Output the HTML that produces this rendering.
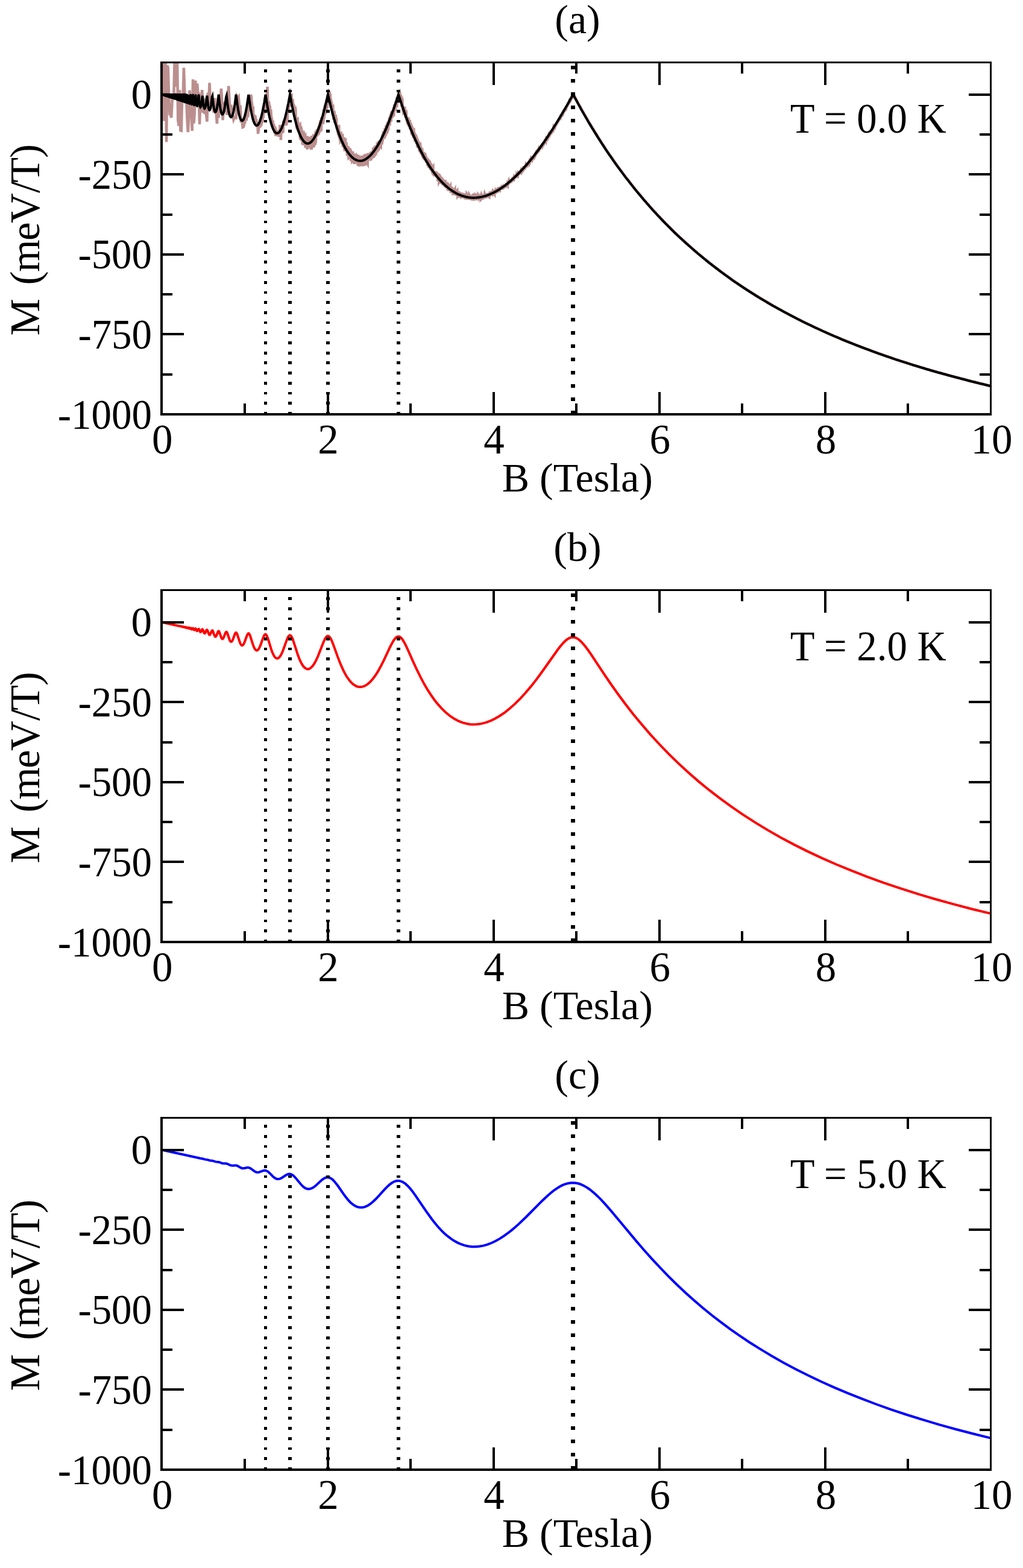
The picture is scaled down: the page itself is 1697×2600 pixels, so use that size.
<!DOCTYPE html><html><head><meta charset="utf-8"><title>M vs B</title><style>html,body{margin:0;padding:0;background:#fff;overflow:hidden}svg{display:block}</style></head><body>
<svg width="1697" height="2600" viewBox="0 0 1697 2600" font-family="&quot;Liberation Serif&quot;, &quot;Times New Roman&quot;, serif">
<rect width="100%" height="100%" fill="#fff"/>
<defs>
<clipPath id="c0"><rect x="267.8" y="103.5" width="1375.8" height="583.5"/></clipPath>
<clipPath id="c1"><rect x="267.8" y="978.5" width="1375.8" height="583.5"/></clipPath>
<clipPath id="c2"><rect x="267.8" y="1853.5" width="1375.8" height="583.5"/></clipPath>
</defs>
<g clip-path="url(#c0)" fill="none" stroke-width="4">
<polyline stroke="#bc8f8f" stroke-width="4.6" points="267.8,90.0 269.2,90.0 270.6,90.0 271.9,200.5 273.3,188.9 274.7,97.8 276.1,235.4 277.4,108.4 278.8,112.9 280.2,163.3 281.6,189.4 282.9,190.3 284.3,195.0 285.7,165.7 287.1,158.4 288.4,154.4 289.8,92.2 291.2,115.6 292.6,144.1 293.9,93.3 295.3,199.1 296.7,208.8 298.1,149.2 299.4,216.3 300.8,216.7 302.2,157.8 303.6,161.2 304.9,112.4 306.3,152.0 307.7,166.3 309.1,159.9 310.4,194.9 311.8,219.1 313.2,196.4 314.6,149.7 316.0,195.0 317.3,181.2 318.7,217.0 320.1,131.5 321.5,204.5 322.8,186.3 324.2,133.6 325.6,173.5 327.0,138.5 328.3,152.3 329.7,155.3 331.1,206.2 332.5,160.1 333.8,166.4 335.2,149.1 336.6,186.9 338.0,162.5 339.3,189.0 340.7,179.8 342.1,190.6 343.5,201.8 344.8,153.8 346.2,169.6 347.6,137.4 349.0,171.5 350.3,175.9 351.7,174.2 353.1,167.4 354.5,186.5 355.9,162.6 357.2,185.9 358.6,185.9 360.0,205.2 361.4,162.6 362.7,195.3 364.1,166.2 365.5,172.4 366.9,146.8 368.2,168.0 369.6,199.1 371.0,173.4 372.4,171.1 373.7,171.7 375.1,181.0 376.5,190.5 377.9,178.6 379.2,142.6 380.6,168.9 382.0,192.0 383.4,173.6 384.7,186.9 386.1,191.6 387.5,198.1 388.9,194.6 390.2,195.8 391.6,195.7 393.0,160.7 394.4,163.3 395.7,161.2 397.1,178.6 398.5,174.7 399.9,202.8 401.3,197.9 402.6,211.0 404.0,210.4 405.4,204.2 405.7,202.4 406.1,193.8 406.4,204.5 406.8,190.8 407.1,190.5 407.4,197.4 407.8,193.5 408.1,192.1 408.5,186.7 408.8,200.3 409.2,186.7 409.5,194.3 409.9,195.3 410.2,189.0 410.5,189.4 410.9,192.2 411.2,194.1 411.6,188.7 411.9,173.5 412.3,168.8 412.6,174.3 412.9,169.3 413.3,176.7 413.6,172.1 414.0,167.8 414.3,173.1 414.7,170.2 415.0,161.6 415.4,161.4 415.7,162.9 416.0,156.7 416.4,162.9 416.7,158.4 417.1,166.7 417.4,170.8 417.8,170.8 418.1,174.8 418.5,179.8 418.8,180.4 419.1,176.0 419.5,178.6 419.8,176.9 420.2,195.4 420.5,189.9 420.9,191.7 421.2,190.0 421.5,195.0 421.9,196.8 422.2,190.9 422.6,195.6 422.9,204.4 423.3,191.5 423.6,194.5 424.0,204.3 424.3,197.4 424.6,207.0 425.0,197.4 425.3,205.7 425.7,209.6 426.0,207.8 426.4,210.5 426.7,205.6 427.0,206.1 427.4,207.2 427.7,210.8 428.1,221.9 428.4,207.5 428.8,218.7 429.1,206.7 429.5,201.7 429.8,206.4 430.1,209.9 430.5,208.5 430.8,207.9 431.2,209.9 431.5,209.6 431.9,211.0 432.2,198.6 432.6,204.8 432.9,198.7 433.2,204.7 433.6,202.1 433.9,202.6 434.3,198.1 434.6,195.1 435.0,197.4 435.3,201.4 435.6,200.9 436.0,186.0 436.3,195.6 436.7,194.4 437.0,183.2 437.4,183.9 437.7,185.5 438.1,189.2 438.4,172.3 438.7,181.6 439.1,179.1 439.4,181.3 439.8,186.5 440.1,184.2 440.5,172.6 440.8,170.8 441.2,172.3 441.5,175.4 441.8,174.8 442.2,166.5 442.5,170.5 442.9,155.3 443.2,151.6 443.6,143.8 443.9,155.1 444.2,165.6 444.6,169.5 444.9,180.7 445.3,172.5 445.6,172.3 446.0,168.2 446.3,172.2 446.7,174.4 447.0,178.4 447.3,177.9 447.7,175.4 448.0,191.0 448.4,189.5 448.7,196.3 449.1,181.5 449.4,184.9 449.7,189.5 450.1,201.6 450.4,195.7 450.8,199.3 451.1,199.0 451.5,201.8 451.8,199.3 452.2,205.5 452.5,199.9 452.8,204.4 453.2,208.4 453.5,208.5 453.9,211.3 454.2,205.5 454.6,212.3 454.9,210.2 455.3,214.7 455.6,221.4 455.9,209.3 456.3,220.6 456.6,212.0 457.0,214.0 457.3,225.8 457.7,222.5 458.0,220.7 458.3,222.8 458.7,225.2 459.0,215.3 459.4,220.9 459.7,217.9 460.1,222.5 460.4,218.8 460.8,224.7 461.1,220.9 461.4,217.8 461.8,220.8 462.1,223.5 462.5,226.8 462.8,220.1 463.2,219.1 463.5,222.2 463.9,224.7 464.2,217.6 464.5,207.1 464.9,221.6 465.2,217.9 465.6,217.4 465.9,232.2 466.3,217.9 466.6,221.9 466.9,210.4 467.3,218.5 467.6,220.7 468.0,217.2 468.3,214.5 468.7,217.7 469.0,214.3 469.4,220.4 469.7,213.7 470.0,207.7 470.4,200.6 470.7,206.4 471.1,207.8 471.4,202.1 471.8,202.0 472.1,197.6 472.5,199.6 472.8,204.8 473.1,201.8 473.5,201.1 473.8,199.3 474.2,198.6 474.5,202.5 474.9,208.1 475.2,199.4 475.5,205.1 475.9,192.9 476.2,191.8 476.6,199.1 476.9,185.5 477.3,183.1 477.6,185.6 478.0,175.9 478.3,173.3 478.6,187.6 479.0,174.4 479.3,175.8 479.7,174.3 480.0,169.9 480.4,176.7 480.7,174.2 481.0,173.6 481.4,171.5 481.7,166.3 482.1,171.3 482.4,167.3 482.8,157.1 483.1,158.4 483.5,155.1 483.8,168.7 484.1,165.1 484.5,165.9 484.8,164.8 485.2,169.9 485.5,164.1 485.9,171.0 486.2,172.4 486.6,174.2 486.9,172.5 487.2,180.2 487.6,173.9 487.9,178.9 488.3,189.9 488.6,176.9 489.0,189.1 489.3,199.4 489.6,176.8 490.0,180.0 490.3,181.1 490.7,202.1 491.0,200.2 491.4,205.3 491.7,208.6 492.1,211.4 492.4,200.1 492.7,212.6 493.1,213.0 493.4,194.4 493.8,207.4 494.1,216.5 494.5,201.8 494.8,217.3 495.2,208.4 495.5,219.2 495.8,211.2 496.2,208.4 496.5,212.3 496.9,220.7 497.2,208.0 497.6,207.5 497.9,228.2 498.2,229.9 498.6,231.2 498.9,209.5 499.3,210.9 499.6,231.6 500.0,212.1 500.3,233.6 500.7,224.6 501.0,226.7 501.3,216.0 501.7,239.2 502.0,235.0 502.4,224.3 502.7,240.7 503.1,238.4 503.4,233.2 503.7,220.9 504.1,223.5 504.4,222.8 504.8,224.5 505.1,226.1 505.5,223.9 505.8,227.5 506.2,226.8 506.5,241.8 506.8,244.7 507.2,227.4 507.5,245.3 507.9,225.3 508.2,231.9 508.6,243.0 508.9,225.8 509.3,246.7 509.6,235.8 509.9,248.0 510.3,226.1 510.6,233.8 511.0,228.9 511.3,245.1 511.7,229.1 512.0,231.0 512.3,232.3 512.7,226.8 513.0,241.5 513.4,242.1 513.7,231.2 514.1,228.5 514.4,243.8 514.8,231.4 515.1,246.0 515.4,234.3 515.8,229.0 516.1,247.8 516.5,229.4 516.8,248.1 517.2,225.0 517.5,238.2 517.9,239.9 518.2,228.2 518.5,233.2 518.9,227.3 519.2,244.9 519.6,230.6 519.9,230.4 520.3,222.4 520.6,243.9 520.9,235.1 521.3,226.6 521.6,228.4 522.0,241.4 522.3,226.1 522.7,238.0 523.0,237.9 523.4,218.8 523.7,236.7 524.0,230.2 524.4,219.2 524.7,219.3 525.1,222.5 525.4,216.2 525.8,226.5 526.1,218.5 526.5,213.9 526.8,215.8 527.1,215.8 527.5,224.7 527.8,216.5 528.2,223.3 528.5,210.5 528.9,222.0 529.2,218.6 529.5,207.8 529.9,213.9 530.2,219.5 530.6,203.8 530.9,216.6 531.3,201.7 531.6,201.7 532.0,211.8 532.3,201.0 532.6,217.7 533.0,210.4 533.3,195.4 533.7,199.9 534.0,199.5 534.4,195.7 534.7,194.3 535.0,195.4 535.4,201.9 535.7,205.6 536.1,202.5 536.4,201.3 536.8,196.9 537.1,180.9 537.5,196.4 537.8,192.6 538.1,193.4 538.5,183.4 538.8,175.4 539.2,175.0 539.5,188.1 539.9,189.0 540.2,171.1 540.6,180.1 540.9,171.7 541.2,186.6 541.6,165.8 541.9,179.8 542.3,173.0 542.6,179.0 543.0,173.0 543.3,159.2 543.6,157.8 544.0,166.8 544.3,155.7 544.7,164.3 545.0,165.1 545.4,156.1 545.7,165.3 546.1,163.5 546.4,152.6 546.7,153.0 547.1,172.4 547.4,156.7 547.8,156.8 548.1,169.5 548.5,178.2 548.8,163.6 549.2,178.3 549.5,167.3 549.8,178.6 550.2,170.3 550.5,183.8 550.9,179.8 551.2,177.7 551.6,176.0 551.9,190.1 552.2,173.2 552.6,191.3 552.9,192.3 553.3,194.5 553.6,198.7 554.0,193.5 554.3,183.8 554.7,186.1 555.0,201.8 555.3,203.9 555.7,202.0 556.0,190.0 556.4,199.8 556.7,190.1 557.1,195.6 557.4,197.5 557.7,195.9 558.1,197.3 558.4,210.8 558.8,213.6 559.1,210.8 559.5,209.9 559.8,218.6 560.2,213.9 560.5,207.1 560.8,221.8 561.2,222.8 561.5,223.3 561.9,222.5 562.2,207.0 562.6,228.4 562.9,227.1 563.3,228.3 563.6,222.8 563.9,232.3 564.3,225.2 564.6,232.1 565.0,231.3 565.3,218.0 565.7,234.5 566.0,223.0 566.3,232.1 566.7,232.6 567.0,222.0 567.4,239.0 567.7,222.1 568.1,223.4 568.4,227.8 568.8,243.8 569.1,229.4 569.4,231.6 569.8,229.1 570.1,244.5 570.5,228.0 570.8,229.6 571.2,248.1 571.5,245.6 571.9,250.6 572.2,233.3 572.5,232.8 572.9,232.5 573.2,239.2 573.6,238.7 573.9,239.1 574.3,242.1 574.6,236.2 574.9,242.4 575.3,252.4 575.6,246.6 576.0,258.3 576.3,242.5 576.7,243.6 577.0,253.3 577.4,242.3 577.7,244.2 578.0,256.8 578.4,261.3 578.7,261.0 579.1,260.8 579.4,259.3 579.8,256.7 580.1,245.3 580.5,261.2 580.8,246.6 581.1,250.4 581.5,248.1 581.8,260.5 582.2,267.1 582.5,250.3 582.9,264.6 583.2,266.5 583.5,251.3 583.9,253.5 584.2,266.6 584.6,266.1 584.9,250.9 585.3,266.7 585.6,255.0 586.0,269.4 586.3,253.8 586.6,270.1 587.0,260.7 587.3,271.7 587.7,260.0 588.0,254.8 588.4,271.9 588.7,269.4 589.0,256.8 589.4,259.8 589.7,269.4 590.1,259.8 590.4,266.7 590.8,256.4 591.1,270.5 591.5,258.3 591.8,260.6 592.1,258.9 592.5,269.6 592.8,259.5 593.2,260.1 593.5,269.8 593.9,275.3 594.2,256.7 594.6,260.3 594.9,273.3 595.2,260.2 595.6,272.3 595.9,268.3 596.3,258.6 596.6,269.1 597.0,272.4 597.3,272.1 597.6,275.4 598.0,273.5 598.3,272.8 598.7,274.2 599.0,275.6 599.4,268.7 599.7,273.6 600.1,260.6 600.4,258.0 600.7,272.6 601.1,263.6 601.4,265.8 601.8,275.1 602.1,274.4 602.5,258.2 602.8,267.8 603.2,259.1 603.5,274.8 603.8,262.4 604.2,258.0 604.5,257.9 604.9,275.0 605.2,264.0 605.6,269.5 605.9,258.8 606.2,273.5 606.6,270.8 606.9,257.6 607.3,266.2 607.6,266.6 608.0,255.1 608.3,269.0 608.7,272.6 609.0,267.2 609.3,270.7 609.7,271.4 610.0,260.0 610.4,253.8 610.7,259.2 611.1,257.6 611.4,266.7 611.7,258.6 612.1,255.1 612.4,257.6 612.8,253.8 613.1,258.0 613.5,266.8 613.8,256.6 614.2,260.2 614.5,266.3 614.8,254.9 615.2,251.4 615.5,265.6 615.9,255.5 616.2,251.6 616.6,260.4 616.9,262.3 617.3,260.2 617.6,253.8 617.9,250.4 618.3,252.5 618.6,262.5 619.0,247.3 619.3,245.6 619.7,261.3 620.0,258.9 620.3,259.5 620.7,244.8 621.0,243.6 621.4,259.7 621.7,255.4 622.1,256.9 622.4,251.4 622.8,241.2 623.1,257.0 623.4,255.2 623.8,248.8 624.1,245.8 624.5,240.9 624.8,248.8 625.2,253.0 625.5,249.4 625.9,236.0 626.2,238.2 626.5,251.1 626.9,236.4 627.2,247.4 627.6,235.6 627.9,250.0 628.3,233.3 628.6,247.1 628.9,241.6 629.3,234.5 629.6,237.6 630.0,244.6 630.3,244.3 630.7,241.8 631.0,244.0 631.4,241.4 631.7,241.9 632.0,235.7 632.4,237.4 632.7,229.6 633.1,237.3 633.4,239.6 633.8,235.1 634.1,224.2 634.5,234.9 634.8,231.8 635.1,222.1 635.5,230.3 635.8,219.1 636.2,218.0 636.5,229.8 636.9,218.8 637.2,229.2 637.5,229.9 637.9,224.5 638.2,218.0 638.6,212.7 638.9,226.8 639.3,214.0 639.6,219.7 640.0,224.6 640.3,208.5 640.6,211.1 641.0,222.2 641.3,206.9 641.7,220.9 642.0,220.2 642.4,216.3 642.7,203.3 643.0,218.4 643.4,201.9 643.7,205.2 644.1,215.5 644.4,204.4 644.8,208.0 645.1,202.8 645.5,199.0 645.8,199.0 646.1,194.3 646.5,208.4 646.8,194.6 647.2,203.0 647.5,193.2 647.9,191.1 648.2,189.1 648.6,201.7 648.9,197.5 649.2,186.9 649.6,186.0 649.9,196.4 650.3,184.2 650.6,193.9 651.0,193.5 651.3,183.5 651.6,189.5 652.0,189.2 652.3,189.5 652.7,187.6 653.0,190.9 653.4,190.7 653.7,176.8 654.1,178.8 654.4,176.0 654.7,173.2 655.1,183.8 655.4,182.8 655.8,181.2 656.1,179.8 656.5,168.7 656.8,176.7 657.2,176.4 657.5,167.4 657.8,176.1 658.2,176.0 658.5,163.4 658.9,161.6 659.2,170.5 659.6,161.1 659.9,171.4 660.2,165.6 660.6,159.0 660.9,165.7 661.3,163.3 661.6,155.1 662.0,154.4 662.3,163.3 662.7,153.4 663.0,166.2 663.3,152.6 663.7,167.1 664.0,167.5 664.4,169.2 664.7,156.8 665.1,170.3 665.4,163.6 665.8,160.0 666.1,161.4 666.4,177.2 666.8,169.6 667.1,168.9 667.5,168.4 667.8,177.9 668.2,179.0 668.5,183.6 668.8,184.4 669.2,176.0 669.5,186.0 669.9,185.6 670.2,184.9 670.6,189.0 670.9,190.3 671.3,177.0 671.6,187.2 671.9,191.4 672.3,182.3 672.6,195.4 673.0,193.9 673.3,182.5 673.7,184.1 674.0,188.2 674.3,199.3 674.7,197.7 675.0,201.8 675.4,200.7 675.7,203.6 676.1,203.6 676.4,194.8 676.8,205.6 677.1,206.0 677.4,194.3 677.8,205.6 678.1,206.6 678.5,210.3 678.8,199.1 679.2,201.4 679.5,204.5 679.9,204.0 680.2,214.5 680.5,213.7 680.9,207.2 681.2,203.7 681.6,205.9 681.9,208.9 682.3,212.2 682.6,221.3 682.9,208.6 683.3,222.5 683.6,222.7 684.0,213.3 684.3,212.7 684.7,213.8 685.0,221.7 685.4,226.3 685.7,228.5 686.0,216.4 686.4,216.1 686.7,228.8 687.1,218.7 687.4,228.2 687.8,230.3 688.1,226.6 688.5,235.0 688.8,230.6 689.1,234.7 689.5,225.9 689.8,230.7 690.2,225.8 690.5,226.3 690.9,237.2 691.2,238.4 691.5,228.2 691.9,235.1 692.2,242.5 692.6,243.7 692.9,230.7 693.3,236.1 693.6,245.8 694.0,239.2 694.3,240.2 694.6,243.4 695.0,235.5 695.3,236.2 695.7,249.4 696.0,249.8 696.4,247.4 696.7,240.1 697.0,243.3 697.4,242.6 697.7,245.4 698.1,253.3 698.4,243.7 698.8,256.5 699.1,246.4 699.5,256.2 699.8,252.9 700.1,245.7 700.5,251.5 700.8,260.1 701.2,256.5 701.5,251.5 701.9,262.0 702.2,260.7 702.6,263.6 702.9,256.0 703.2,261.0 703.6,258.4 703.9,263.4 704.3,256.7 704.6,265.9 705.0,255.3 705.3,255.5 705.6,263.0 706.0,264.4 706.3,258.2 706.7,268.3 707.0,259.9 707.4,269.5 707.7,262.0 708.1,270.1 708.4,264.6 708.7,261.8 709.1,274.6 709.4,264.0 709.8,268.0 710.1,272.9 710.5,273.8 710.8,277.2 711.2,276.0 711.5,269.5 711.8,278.6 712.2,270.0 712.5,267.7 712.9,268.1 713.2,269.4 713.6,270.7 713.9,281.1 714.2,270.3 714.6,281.9 714.9,272.3 715.3,272.7 715.6,275.9 716.0,278.2 716.3,284.5 716.7,279.3 717.0,284.5 717.3,286.6 717.7,287.1 718.0,277.5 718.4,276.9 718.7,288.4 719.1,289.9 719.4,288.2 719.8,289.9 720.1,289.9 720.4,283.4 720.8,288.1 721.1,288.5 721.5,291.6 721.8,284.2 722.2,291.6 722.5,290.8 722.8,290.1 723.2,283.7 723.5,293.9 723.9,286.3 724.2,294.1 724.6,285.6 724.9,293.9 725.3,291.5 725.6,287.1 725.9,289.5 726.3,298.6 726.6,298.7 727.0,287.9 727.3,300.3 727.7,298.3 728.0,289.4 728.3,301.6 728.7,300.9 729.0,300.8 729.4,302.3 729.7,298.3 730.1,295.4 730.4,301.3 730.8,303.6 731.1,294.2 731.4,294.7 731.8,297.8 732.1,304.9 732.5,298.9 732.8,298.0 733.2,302.9 733.5,296.4 733.9,304.1 734.2,301.5 734.5,307.5 734.9,301.1 735.2,299.1 735.6,299.7 735.9,307.7 736.3,298.3 736.6,300.9 736.9,306.7 737.3,307.2 737.6,301.4 738.0,310.4 738.3,303.4 738.7,302.9 739.0,306.1 739.4,302.2 739.7,308.5 740.0,308.9 740.4,311.6 740.7,303.1 741.1,311.8 741.4,305.7 741.8,311.3 742.1,304.3 742.5,304.5 742.8,315.7 743.1,304.7 743.5,308.5 743.8,316.2 744.2,311.5 744.5,316.9 744.9,310.4 745.2,316.4 745.5,314.9 745.9,315.9 746.2,310.7 746.6,308.8 746.9,308.3 747.3,316.6 747.6,312.2 748.0,319.8 748.3,316.9 748.6,309.4 749.0,319.7 749.3,310.5 749.7,312.7 750.0,318.9 750.4,312.0 750.7,319.4 751.0,311.6 751.4,321.5 751.7,321.5 752.1,313.4 752.4,318.7 752.8,321.9 753.1,317.1 753.5,321.1 753.8,316.8 754.1,314.8 754.5,314.1 754.8,323.8 755.2,317.0 755.5,313.9 755.9,320.5 756.2,315.8 756.6,324.4 756.9,315.4 757.2,318.3 757.6,315.7 757.9,316.7 758.3,316.2 758.6,325.8 759.0,317.8 759.3,325.1 759.6,324.7 760.0,324.3 760.3,319.8 760.7,319.5 761.0,317.2 761.4,327.3 761.7,326.2 762.1,324.9 762.4,318.7 762.7,321.5 763.1,322.4 763.4,319.6 763.8,320.7 764.1,326.4 764.5,328.1 764.8,324.7 765.2,319.4 765.5,322.0 765.8,328.8 766.2,325.6 766.5,326.4 766.9,322.7 767.2,322.7 767.6,319.9 767.9,327.3 768.2,326.7 768.6,322.9 768.9,320.8 769.3,322.3 769.6,326.2 770.0,321.6 770.3,326.1 770.7,320.8 771.0,328.7 771.3,330.0 771.7,322.0 772.0,328.9 772.4,322.1 772.7,324.2 773.1,325.8 773.4,330.7 773.8,322.9 774.1,331.0 774.4,321.9 774.8,322.5 775.1,329.5 775.5,330.8 775.8,322.7 776.2,327.6 776.5,331.0 776.8,327.2 777.2,330.3 777.5,328.9 777.9,325.0 778.2,323.0 778.6,323.8 778.9,331.1 779.3,328.1 779.6,327.8 779.9,322.8 780.3,331.7 780.6,327.1 781.0,323.4 781.3,329.4 781.7,330.7 782.0,326.4 782.3,330.2 782.7,323.5 783.0,331.9 783.4,331.1 783.7,331.9 784.1,325.0 784.4,330.5 784.8,323.8 785.1,323.9 785.4,323.6 785.8,330.8 786.1,332.4 786.5,329.7 786.8,323.5 787.2,324.8 787.5,332.1 787.9,325.2 788.2,323.8 788.5,323.5 788.9,325.1 789.2,324.1 789.6,324.2 789.9,329.9 790.3,331.7 790.6,325.0 790.9,331.4 791.3,329.6 791.6,323.3 792.0,326.4 792.3,327.0 792.7,323.5 793.0,330.2 793.4,323.2 793.7,323.6 794.0,329.4 794.4,329.7 794.7,331.0 795.1,323.4 795.4,330.5 795.8,331.5 796.1,323.5 796.5,325.5 796.8,324.8 797.1,324.3 797.5,331.0 797.8,330.7 798.2,326.9 798.5,330.7 798.9,326.5 799.2,323.9 799.5,324.5 799.9,324.7 800.2,330.4 800.6,329.2 800.9,322.6 801.3,329.7 801.6,325.3 802.0,329.9 802.3,322.1 802.6,329.1 803.0,327.2 803.3,324.7 803.7,323.1 804.0,321.7 804.4,322.8 804.7,327.3 805.0,328.9 805.4,322.7 805.7,321.1 806.1,328.8 806.4,322.0 806.8,327.8 807.1,325.5 807.5,323.8 807.8,322.7 808.1,320.3 808.5,321.9 808.8,325.6 809.2,321.5 809.5,324.5 809.9,325.0 810.2,325.3 810.6,323.7 810.9,325.6 811.2,325.7 811.6,326.1 811.9,323.9 812.3,325.0 812.6,319.5 813.0,319.4 813.3,324.2 813.6,320.6 814.0,318.7 814.3,323.7 814.7,320.7 815.0,322.6 815.4,319.6 815.7,317.7 816.1,324.2 816.4,317.4 816.7,318.9 817.1,317.9 817.4,318.8 817.8,317.2 818.1,322.1 818.5,317.8 818.8,322.2 819.2,319.3 819.5,317.5 819.8,322.0 820.2,322.5 820.5,316.3 820.9,316.1 821.2,316.8 821.6,320.4 821.9,316.5 822.2,321.3 822.6,316.1 822.9,316.5 823.3,316.0 823.6,318.3 824.0,319.6 824.3,314.7 824.7,317.5 825.0,314.3 825.3,318.0 825.7,319.3 826.0,315.2 826.4,314.3 826.7,312.4 827.1,312.4 827.4,318.4 827.8,312.5 828.1,316.9 828.4,312.5 828.8,315.7 829.1,315.9 829.5,314.2 829.8,313.0 830.2,311.5 830.5,311.6 830.8,311.2 831.2,314.1 831.5,310.7 831.9,314.0 832.2,310.7 832.6,312.6 832.9,310.7 833.3,314.6 833.6,311.2 833.9,313.2 834.3,312.0 834.6,313.4 835.0,308.6 835.3,307.1 835.7,311.2 836.0,312.3 836.3,307.8 836.7,311.6 837.0,305.9 837.4,311.1 837.7,309.7 838.1,308.1 838.4,310.4 838.8,309.1 839.1,309.1 839.4,305.0 839.8,303.6 840.1,307.8 840.5,303.9 840.8,308.4 841.2,304.6 841.5,306.2 841.9,306.9 842.2,302.4 842.5,302.5 842.9,306.7 843.2,305.7 843.6,301.3 843.9,300.4 844.3,301.9 844.6,300.3 844.9,299.6 845.3,300.3 845.6,300.5 846.0,303.8 846.3,302.7 846.7,299.8 847.0,298.1 847.4,302.2 847.7,301.4 848.0,302.7 848.4,298.0 848.7,300.1 849.1,296.9 849.4,300.7 849.8,297.0 850.1,296.6 850.5,298.4 850.8,299.6 851.1,298.2 851.5,295.0 851.8,298.7 852.2,298.7 852.5,296.5 852.9,297.5 853.2,293.2 853.5,292.9 853.9,292.1 854.2,292.2 854.6,292.7 854.9,295.7 855.3,291.3 855.6,291.3 856.0,290.9 856.3,290.8 856.6,290.0 857.0,293.3 857.3,290.0 857.7,290.7 858.0,292.0 858.4,291.8 858.7,292.1 859.1,289.9 859.4,290.5 859.7,289.8 860.1,286.6 860.4,286.9 860.8,286.6 861.1,285.1 861.5,289.1 861.8,286.7 862.1,288.8 862.5,287.2 862.8,283.5 863.2,287.7 863.5,283.5 863.9,282.7 864.2,284.2 864.6,282.2 864.9,284.4 865.2,284.5 865.6,282.8 865.9,284.4 866.3,283.6 866.6,283.2 867.0,279.1 867.3,282.3 867.6,282.4 868.0,278.2 868.3,281.9 868.7,277.3 869.0,277.3 869.4,277.7 869.7,279.2 870.1,279.8 870.4,279.7 870.7,279.3 871.1,278.0 871.4,277.4 871.8,274.1 872.1,275.3 872.5,273.1 872.8,273.6 873.2,276.4 873.5,273.6 873.8,275.5 874.2,275.5 874.5,270.9 874.9,273.7 875.2,273.8 875.6,273.7 875.9,270.3 876.2,271.4 876.6,272.7 876.9,268.9 877.3,271.1 877.6,267.9 878.0,269.2 878.3,268.1 878.7,268.6 879.0,266.6 879.3,265.2 879.7,265.4 880.0,268.3 880.4,266.2 880.7,267.0 881.1,266.9 881.4,266.3 881.8,265.7 882.1,262.0 882.4,262.2 882.8,261.5 883.1,261.5 883.5,263.3 883.8,262.5 884.2,261.9 884.5,262.0 884.8,261.1 885.2,258.7 885.5,261.3 885.9,260.3 886.2,259.0 886.6,257.3 886.9,256.9 887.3,256.2 887.6,258.5 887.9,257.9 888.3,257.1 888.6,256.7 889.0,254.0 889.3,252.9 889.7,253.3 890.0,255.5 890.3,254.4 890.7,251.6 891.0,250.9 891.4,251.3 891.7,252.4 892.1,251.9 892.4,249.8 892.8,248.7 893.1,250.5 893.4,250.5 893.8,250.4 894.1,249.7 894.5,246.5 894.8,246.6 895.2,245.3 895.5,247.9 895.9,246.7 896.2,244.3 896.5,244.2 896.9,246.0 897.2,244.6 897.6,242.8 897.9,242.2 898.3,243.0 898.6,243.3 898.9,240.2 899.3,241.5 899.6,239.8 900.0,239.9 900.3,241.1 900.7,240.2 901.0,240.1 901.4,239.4 901.7,238.8 902.0,237.8 902.4,237.6 902.7,236.9 903.1,234.7 903.4,236.7 903.8,236.0 904.1,233.3 904.5,233.5 904.8,233.7 905.1,233.7 905.5,232.0 905.8,232.8 906.2,230.2 906.5,229.8 906.9,231.0 907.2,231.1 907.5,228.1 907.9,229.5 908.2,227.6 908.6,226.7 908.9,226.3 909.3,225.7 909.6,226.3 910.0,224.7 910.3,225.4 910.6,225.4 911.0,224.3 911.3,224.2 911.7,222.3 912.0,221.6 912.4,223.0 912.7,222.4 913.1,221.5 913.4,220.7 913.7,218.9 914.1,218.4 914.4,217.8 914.8,217.7 915.1,217.2 915.5,218.0 915.8,217.2 916.1,217.3 916.5,214.9 916.8,215.8 917.2,215.6 917.5,214.7 917.9,214.1 918.2,212.4 918.6,213.5 918.9,212.6 919.2,210.5 919.6,210.0 919.9,209.9 920.3,209.5 920.6,209.9 921.0,207.9 921.3,207.5 921.6,207.4 922.0,207.7 922.3,207.1 922.7,206.3 923.0,205.8 923.4,205.6 923.7,204.5 924.1,203.9 924.4,203.6 924.7,202.9 925.1,202.4 925.4,201.8 925.8,200.5 926.1,200.3 926.5,200.3 926.8,198.6 927.2,198.5 927.5,198.2 927.8,197.0 928.2,196.4 928.5,195.7 928.9,195.2 929.2,194.8 929.6,194.2 929.9,194.6 930.2,193.1 930.6,193.4 930.9,192.8 931.3,192.3 931.6,191.4 932.0,191.3 932.3,189.7 932.7,189.0 933.0,188.4 933.3,188.8 933.7,187.4 934.0,186.6 934.4,187.2 934.7,186.4 935.1,185.8 935.4,184.9 935.8,184.7 936.1,183.4 936.4,183.3 936.8,182.1 937.1,181.7 937.5,180.8 937.8,181.1 938.2,179.6 938.5,179.0 938.8,178.4 939.2,178.8 939.5,177.0 939.9,176.8 940.2,176.8 940.6,176.0 940.9,175.1 941.3,174.5 941.6,174.5 941.9,173.8 942.3,173.1 942.6,171.7 943.0,171.8 943.3,171.6 943.7,170.5 944.0,170.2 944.3,169.8 944.7,167.9 945.0,168.3 945.4,167.2 945.7,167.0 946.1,166.7 946.4,164.9 946.8,164.2 947.1,164.7 947.4,163.8 947.8,163.3 948.1,162.9 948.5,161.4 948.8,160.7 949.2,160.0 949.5,159.5 949.9,159.9 950.2,158.8 951.6,157.0 952.9,159.4 954.3,162.3 955.7,164.8 957.1,167.1 958.5,170.1 959.8,172.5 961.2,175.0 962.6,177.0 964.0,180.0 965.3,182.5 966.7,184.8 968.1,187.0 969.5,189.8 970.8,191.7 972.2,194.5 973.6,196.5 975.0,199.3 976.3,201.1 977.7,203.9 979.1,205.8 980.5,208.1 981.8,210.8 983.2,213.1 984.6,215.0 986.0,217.4 987.3,219.7 988.7,221.6 990.1,224.1 991.5,226.2 992.8,228.4 994.2,230.6 995.6,232.8 997.0,235.1 998.3,237.2 999.7,239.3 1001.1,241.4 1002.5,243.1 1003.9,245.7 1005.2,247.7 1006.6,249.5 1008.0,251.7 1009.4,253.8 1010.7,255.8 1012.1,257.6 1013.5,259.5 1014.9,261.4 1016.2,263.4 1017.6,265.7 1019.0,267.6 1020.4,269.6 1021.7,271.6 1023.1,273.1 1024.5,275.5 1025.9,277.4 1027.2,278.9 1028.6,280.8 1030.0,283.0 1031.4,284.4 1032.7,286.6 1034.1,288.3 1035.5,290.5 1036.9,291.8 1038.2,294.1 1039.6,295.7 1041.0,297.2 1042.4,298.9 1043.8,300.7 1045.1,302.5 1046.5,304.7 1047.9,306.5 1049.3,308.0 1050.6,310.0 1052.0,311.1 1053.4,313.4 1054.8,315.0 1056.1,316.7 1057.5,318.5 1058.9,319.9 1060.3,321.8 1061.6,322.9 1063.0,324.6 1064.4,326.6 1065.8,327.8 1067.1,329.5 1068.5,331.5 1069.9,332.7 1071.3,334.2 1072.6,335.9 1074.0,337.8 1075.4,339.0 1076.8,340.5 1078.1,342.5 1079.5,344.1 1080.9,345.2 1082.3,346.8 1083.6,348.7 1085.0,349.9 1086.4,351.6 1087.8,352.7 1089.2,354.6 1090.5,356.2 1091.9,357.7 1093.3,359.0 1094.7,360.1 1096.0,362.0 1097.4,363.3 1098.8,364.4 1100.2,366.4 1101.5,367.7 1102.9,368.7 1104.3,370.6 1105.7,371.5 1107.0,372.9 1108.4,374.8 1109.8,375.8 1111.2,377.2 1112.5,378.5 1113.9,380.2 1115.3,381.5 1116.7,382.9 1118.0,384.3 1119.4,385.6 1120.8,386.5 1122.2,387.8 1123.5,389.5 1124.9,390.5 1126.3,392.0 1127.7,393.5 1129.1,394.7 1130.4,395.6 1131.8,397.3 1133.2,398.3 1134.6,399.4 1135.9,401.1 1137.3,401.9 1138.7,403.7 1140.1,404.5 1141.4,405.7 1142.8,406.9 1144.2,408.1 1145.6,409.4 1146.9,410.5 1148.3,412.2 1149.7,413.1 1151.1,414.6 1152.4,415.8 1153.8,416.8 1155.2,417.7 1156.6,418.9 1157.9,420.6 1159.3,421.1 1160.7,422.8 1162.1,423.9 1163.4,424.6 1164.8,425.8 1166.2,427.0 1167.6,428.4 1168.9,429.5 1170.3,430.3 1171.7,431.8 1173.1,432.5 1174.5,433.6 1175.8,435.0 1177.2,435.8 1178.6,437.3 1180.0,438.0 1181.3,439.2 1182.7,440.5 1184.1,441.4 1185.5,442.4 1186.8,443.5 1188.2,444.9 1189.6,445.4 1191.0,446.4 1192.3,448.0 1193.7,448.5 1195.1,449.8 1196.5,451.1 1197.8,451.6 1199.2,453.0 1200.6,453.7 1202.0,454.7 1203.3,455.8 1204.7,457.2 1206.1,457.7 1207.5,458.7 1208.8,459.6 1210.2,461.0 1211.6,461.6 1213.0,462.6 1214.4,463.9 1215.7,464.8 1217.1,465.9 1218.5,467.0 1219.9,467.8 1221.2,468.7 1222.6,469.8 1224.0,470.2 1225.4,471.5 1226.7,472.2 1228.1,473.4 1229.5,474.3 1230.9,474.9 1232.2,476.0 1233.6,476.8 1235.0,477.9 1236.4,478.6 1237.7,479.4 1239.1,480.7 1240.5,481.4 1241.9,482.1 1243.2,483.4 1244.6,483.8 1246.0,484.9 1247.4,486.0 1248.7,486.5 1250.1,487.3 1251.5,488.3 1252.9,489.0 1254.2,490.4 1255.6,490.9 1257.0,491.6 1258.4,492.4 1259.8,493.4 1261.1,494.2 1262.5,495.3 1263.9,495.9 1265.3,496.8 1266.6,497.4 1268.0,498.3 1269.4,499.1 1270.8,499.9 1272.1,501.2 1273.5,501.5 1274.9,502.6 1276.3,503.1 1277.6,504.3 1279.0,505.0 1280.4,505.5 1281.8,506.8 1283.1,507.5 1284.5,508.1 1285.9,508.6 1287.3,509.8 1288.6,510.2 1290.0,511.4 1291.4,512.1 1292.8,512.6 1294.1,513.3 1295.5,514.0 1296.9,514.7 1298.3,515.9 1299.6,516.3 1301.0,517.1 1302.4,518.1 1303.8,518.5 1305.2,519.2 1306.5,520.2 1307.9,520.6 1309.3,521.9 1310.7,522.6 1312.0,522.9 1313.4,524.0 1314.8,524.4 1316.2,525.2 1317.5,526.2 1318.9,526.5 1320.3,527.2 1321.7,528.3 1323.0,529.0 1324.4,529.2 1325.8,529.9 1327.2,530.6 1328.5,531.5 1329.9,532.4 1331.3,533.0 1332.7,533.8 1334.0,534.3 1335.4,535.1 1336.8,535.8 1338.2,536.4 1339.5,537.2 1340.9,537.7 1342.3,538.1 1343.7,538.8 1345.1,539.3 1346.4,540.0 1347.8,540.8 1349.2,541.3 1350.6,542.3 1351.9,542.6 1353.3,543.7 1354.7,544.1 1356.1,544.5 1357.4,545.3 1358.8,546.0 1360.2,546.5 1361.6,547.5 1362.9,547.7 1364.3,548.9 1365.7,549.4 1367.1,550.0 1368.4,550.6 1369.8,550.8 1371.2,551.9 1372.6,552.4 1373.9,552.8 1375.3,553.3 1376.7,553.9 1378.1,554.8 1379.4,555.5 1380.8,555.6 1382.2,556.7 1383.6,557.3 1384.9,557.9 1386.3,558.3 1387.7,558.6 1389.1,559.2 1390.5,559.9 1391.8,560.5 1393.2,561.0 1394.6,561.6 1396.0,562.5 1397.3,563.1 1398.7,563.7 1400.1,563.8 1401.5,564.5 1402.8,564.9 1404.2,566.0 1405.6,566.0 1407.0,567.0 1408.3,567.1 1409.7,567.8 1411.1,568.4 1412.5,568.8 1413.8,569.5 1415.2,570.0 1416.6,570.9 1418.0,571.1 1419.3,571.9 1420.7,572.6 1422.1,573.1 1423.5,573.4 1424.8,574.1 1426.2,574.2 1427.6,575.2 1429.0,575.8 1430.4,575.7 1431.7,576.7 1433.1,577.0 1434.5,577.8 1435.9,578.3 1437.2,578.7 1438.6,578.9 1440.0,579.9 1441.4,579.9 1442.7,580.4 1444.1,581.1 1445.5,581.8 1446.9,582.4 1448.2,582.9 1449.6,583.4 1451.0,583.5 1452.4,584.5 1453.7,584.5 1455.1,585.0 1456.5,586.0 1457.9,586.5 1459.2,586.5 1460.6,587.0 1462.0,587.8 1463.4,587.9 1464.7,588.8 1466.1,589.2 1467.5,589.8 1468.9,589.9 1470.2,590.8 1471.6,591.2 1473.0,591.3 1474.4,592.0 1475.8,592.3 1477.1,592.7 1478.5,593.2 1479.9,594.1 1481.3,594.1 1482.6,595.0 1484.0,595.4 1485.4,595.8 1486.8,596.4 1488.1,596.9 1489.5,596.9 1490.9,597.3 1492.3,598.1 1493.6,598.5 1495.0,599.1 1496.4,599.3 1497.8,599.7 1499.1,599.9 1500.5,600.9 1501.9,600.8 1503.3,601.2 1504.6,602.1 1506.0,602.2 1507.4,602.6 1508.8,603.1 1510.1,603.9 1511.5,604.0 1512.9,604.3 1514.3,605.3 1515.7,605.5 1517.0,606.2 1518.4,606.0 1519.8,606.5 1521.2,607.4 1522.5,607.4 1523.9,607.8 1525.3,608.7 1526.7,608.8 1528.0,609.1 1529.4,609.8 1530.8,610.0 1532.2,610.2 1533.5,610.8 1534.9,611.3 1536.3,612.0 1537.7,612.4 1539.0,612.3 1540.4,612.7 1541.8,613.1 1543.2,613.6 1544.5,614.0 1545.9,614.5 1547.3,614.7 1548.7,615.5 1550.0,615.7 1551.4,616.2 1552.8,616.4 1554.2,617.1 1555.5,617.6 1556.9,618.0 1558.3,618.3 1559.7,618.2 1561.1,618.7 1562.4,619.1 1563.8,619.7 1565.2,620.3 1566.6,620.5 1567.9,620.5 1569.3,621.1 1570.7,621.4 1572.1,622.0 1573.4,622.5 1574.8,622.5 1576.2,623.1 1577.6,623.6 1578.9,624.0 1580.3,624.0 1581.7,624.7 1583.1,624.8 1584.4,625.5 1585.8,625.4 1587.2,626.1 1588.6,626.4 1589.9,626.5 1591.3,626.9 1592.7,627.3 1594.1,628.0 1595.4,627.9 1596.8,628.7 1598.2,628.6 1599.6,629.0 1601.0,629.5 1602.3,629.7 1603.7,630.2 1605.1,630.5 1606.5,631.3 1607.8,631.1 1609.2,631.5 1610.6,632.3 1612.0,632.6 1613.3,632.7 1614.7,632.9 1616.1,633.7 1617.5,633.5 1618.8,634.3 1620.2,634.2 1621.6,634.6 1623.0,635.2 1624.3,635.6 1625.7,636.1 1627.1,636.4 1628.5,636.4 1629.8,636.6 1631.2,636.9 1632.6,637.6 1634.0,637.6 1635.3,638.3 1636.7,638.2 1638.1,638.6 1639.5,639.4 1640.8,639.2 1642.2,639.6 1643.6,640.0"/>
<polyline stroke="#000" stroke-linejoin="round" points="267.8,156.6 268.4,156.7 268.6,156.6 269.5,157.1 269.7,156.8 270.0,156.8 270.3,157.2 270.6,157.4 270.8,156.7 271.4,157.7 271.7,156.7 271.9,157.5 272.2,156.7 272.8,157.3 273.0,158.1 273.3,157.6 273.6,158.2 273.9,156.7 274.4,158.5 274.7,158.8 275.0,158.3 275.2,158.4 275.5,156.6 275.8,157.0 276.1,157.8 276.3,159.3 276.6,156.6 276.9,159.2 277.2,159.6 278.0,159.8 278.3,158.4 278.5,158.6 278.8,160.0 279.1,157.9 279.4,159.9 279.6,159.8 279.9,156.6 280.2,159.5 280.5,160.6 280.7,160.7 281.3,160.2 281.6,160.2 282.4,161.3 282.7,161.0 282.9,159.6 283.2,156.7 283.5,160.2 283.8,161.8 284.3,158.1 284.6,161.8 285.1,158.9 285.4,162.3 285.7,158.3 286.0,161.9 286.2,160.6 286.8,161.6 287.1,160.7 287.3,161.8 287.6,161.2 287.9,161.3 288.2,162.2 288.4,159.7 288.7,163.3 289.0,156.9 289.3,163.3 289.5,161.1 289.8,160.9 290.1,163.7 290.4,158.2 290.6,162.8 290.9,163.4 291.2,156.6 291.5,163.5 291.7,163.5 292.0,157.0 292.3,163.3 292.6,164.3 292.8,159.2 293.4,164.9 293.9,158.2 294.2,164.1 294.5,165.0 294.8,161.2 295.0,159.7 295.3,164.7 295.6,165.3 296.1,158.8 296.4,164.3 296.7,166.0 297.0,163.9 297.2,158.1 297.8,165.8 298.1,166.2 298.6,157.1 299.2,166.1 299.4,166.8 299.7,164.5 300.0,159.5 300.3,160.5 300.5,165.2 300.8,167.2 301.1,166.8 301.6,158.6 302.5,167.7 302.7,167.7 303.0,165.5 303.6,157.9 303.8,163.4 304.1,166.8 304.4,168.4 304.7,168.2 304.9,166.1 305.5,156.6 306.0,166.1 306.3,168.5 306.6,169.2 306.9,168.4 307.1,166.1 307.7,157.0 308.5,168.4 308.8,169.8 309.1,169.9 309.6,166.2 310.2,157.5 310.7,165.1 311.3,170.1 311.6,170.8 311.8,170.5 312.1,169.2 312.9,158.9 313.2,159.3 314.0,169.6 314.3,171.2 314.6,171.8 314.9,171.6 315.4,168.5 316.2,157.6 317.3,170.0 317.6,171.7 317.9,172.7 318.2,173.0 318.4,172.6 319.0,169.6 320.1,157.5 320.6,165.3 321.2,170.7 321.7,173.6 322.0,174.2 322.3,174.3 322.6,173.7 323.1,171.0 324.2,159.2 324.5,158.1 325.6,170.7 326.1,174.1 326.4,175.1 326.7,175.7 327.0,175.9 327.2,175.6 327.5,174.8 328.1,172.1 328.6,167.7 329.4,158.0 329.7,158.9"/>
<polyline stroke="#000" stroke-miterlimit="6" points="329.4,158.0 329.7,158.9 330.4,167.0 331.1,172.8 331.8,176.3 332.5,177.7 333.2,176.9 333.8,174.2 334.5,169.4 335.2,162.7 335.9,158.8 337.3,172.3 338.0,176.5 338.7,179.0 339.3,179.9 340.0,179.3 340.7,177.2 341.4,173.6 342.8,162.2 343.5,158.7 344.2,166.1 345.5,176.8 346.2,180.0 346.9,182.0 347.6,182.6 348.3,182.0 349.0,180.2 349.7,177.2 350.3,173.0 351.7,161.2 352.4,159.4 353.1,166.5 354.5,177.2 355.2,180.9 355.9,183.6 356.5,185.2 357.2,185.8 357.9,185.4 358.6,184.0 359.3,181.7 360.0,178.4 361.4,169.2 362.7,156.6 364.1,169.9 365.5,179.6 366.9,186.0 367.5,188.0 368.2,189.2 368.9,189.6 369.6,189.2 370.3,188.1 371.0,186.3 371.7,183.8 373.0,176.6 375.1,160.9 375.8,158.8 377.2,170.9 379.2,184.2 379.9,187.3 381.3,191.9 382.0,193.2 382.7,194.0 383.4,194.3 384.1,194.0 384.7,193.1 385.4,191.7 386.1,189.8 387.5,184.4 389.6,172.5 391.6,156.7 393.7,173.3 395.1,182.1 396.4,189.1 397.1,191.9 398.5,196.3 399.9,199.0 400.6,199.8 401.3,200.2 401.9,200.2 402.6,199.8 403.3,199.0 404.0,197.8 405.4,194.4 406.8,189.6 408.1,183.4 409.5,175.9 412.3,157.0 415.7,179.9 417.1,187.2 419.1,196.1 420.5,200.6 421.2,202.5 422.6,205.4 424.0,207.2 424.6,207.8 425.3,208.0 426.0,208.1 426.7,207.9 427.4,207.4 428.1,206.7 429.5,204.7 430.8,201.7 432.9,195.5 434.3,190.3 436.3,181.0 438.4,169.8 440.5,156.9 443.2,174.2 445.3,185.6 447.3,195.3 450.1,205.7 452.2,211.7 453.5,214.9 454.9,217.3 455.6,218.3 457.0,219.9 458.3,220.8 459.7,221.0 460.4,221.0 461.8,220.4 463.2,219.2 464.5,217.4 465.9,215.1 467.3,212.3 470.0,205.0 472.8,195.7 475.5,184.4 478.3,171.3 481.0,156.6 484.5,175.7 487.9,191.8 491.4,205.4 493.4,212.3 495.5,218.3 496.9,221.9 498.9,226.5 501.0,230.3 503.1,233.3 504.4,234.9 506.5,236.7 508.6,237.7 510.6,238.0 512.0,237.8 514.1,236.9 516.1,235.4 518.2,233.2 520.3,230.4 522.3,227.0 524.4,222.9 526.5,218.3 530.6,207.2 532.6,200.9 535.4,191.6 539.5,175.9 544.0,156.6 547.1,170.0 550.5,183.8 553.3,194.0 556.7,205.6 559.5,214.2 562.9,223.8 566.3,232.4 569.8,239.9 573.2,246.4 576.7,252.0 580.1,256.6 583.5,260.3 587.0,263.2 590.4,265.2 593.9,266.4 597.3,266.7 600.7,266.4 602.8,265.8 604.9,264.9 608.3,262.9 612.4,259.6 615.9,256.1 620.0,251.1 623.4,246.2 627.6,239.5 631.7,231.9 635.8,223.5 640.0,214.4 644.1,204.4 648.2,193.8 652.3,182.4 656.5,170.3 660.9,156.6 667.5,176.7 674.3,196.0 681.2,213.7 688.8,231.4 696.4,247.3 703.9,261.5 711.5,274.1 714.9,279.4 719.1,285.2 722.5,289.8 726.6,294.9 730.8,299.6 734.9,303.9 739.0,307.8 743.1,311.3 747.3,314.5 751.4,317.3 755.5,319.7 759.6,321.9 763.8,323.6 768.6,325.3 772.7,326.4 776.8,327.2 781.0,327.7 785.8,327.9 789.9,327.7 794.7,327.2 799.5,326.4 804.4,325.1 808.5,323.8 813.3,321.9 818.1,319.7 822.9,317.2 827.8,314.4 832.6,311.2 837.4,307.8 842.2,304.1 847.0,300.0 852.5,295.1 857.3,290.5 862.8,284.9 873.2,273.6 883.5,261.2 894.5,246.7 905.5,231.1 916.5,214.5 927.5,196.8 939.2,176.9 950.6,156.6 964.0,181.1 977.7,204.9 992.2,228.4 1006.6,250.6 1021.7,272.4 1036.9,292.9 1052.7,313.1 1068.5,332.0 1085.0,350.7 1102.2,368.9 1111.2,377.9 1120.1,386.7 1138.0,403.3 1156.6,419.6 1175.8,435.4 1195.8,450.7 1215.7,465.1 1237.1,479.5 1258.4,493.0 1280.4,506.0 1303.1,518.6 1326.5,530.7 1351.2,542.7 1376.0,554.0 1402.1,565.1 1429.0,575.7 1456.5,585.8 1485.4,595.8 1515.0,605.3 1545.2,614.5 1576.9,623.3 1609.9,632.0 1643.6,640.2"/>
</g>
<g clip-path="url(#c1)" fill="none" stroke-width="4">
<polyline stroke="#ff0000" points="267.8,1031.5 296.7,1037.9 297.2,1037.9 299.4,1038.5 300.0,1038.5 301.1,1038.9 301.6,1038.8 302.7,1039.3 303.3,1039.1 303.8,1039.3 304.4,1039.7 305.5,1039.5 306.6,1040.3 307.7,1039.9 308.8,1040.9 309.3,1040.8 309.9,1040.4 310.4,1040.4 311.6,1041.6 312.1,1041.5 312.7,1040.9 313.2,1040.8 314.3,1042.3 314.9,1042.5 316.0,1041.4 316.5,1041.4 317.6,1043.0 318.2,1043.5 318.7,1043.2 319.8,1041.8 320.4,1042.0 321.5,1044.0 322.0,1044.6 322.6,1044.6 323.7,1042.9 324.2,1042.3 324.8,1042.6 326.4,1045.8 327.0,1046.2 327.5,1045.9 329.2,1043.1 329.7,1043.0 330.3,1043.7 331.9,1047.4 332.5,1048.0 333.0,1047.9 333.6,1047.1 335.2,1043.8 335.8,1043.5 336.3,1044.0 336.9,1045.1 338.5,1049.4 339.1,1050.1 339.6,1050.3 340.2,1049.9 340.7,1048.9 342.4,1045.1 342.9,1044.4 343.5,1044.4 344.0,1045.1 344.6,1046.3 346.2,1051.0 346.8,1052.0 347.3,1052.6 347.9,1052.7 348.4,1052.3 349.0,1051.4 351.2,1046.2 351.7,1045.5 352.3,1045.4 352.8,1046.0 353.4,1047.1 355.0,1051.9 356.1,1054.6 356.7,1055.4 357.2,1055.7 357.8,1055.6 358.3,1055.1 358.9,1054.2 361.6,1047.5 362.2,1046.7 362.7,1046.5 363.3,1046.9 363.8,1047.8 367.1,1057.3 368.2,1059.0 368.8,1059.4 369.3,1059.4 369.9,1059.0 370.4,1058.3 371.5,1056.0 373.7,1050.0 374.8,1048.1 375.4,1047.7 375.9,1047.9 376.5,1048.6 377.0,1049.6 380.9,1061.1 382.0,1063.1 382.5,1063.8 383.1,1064.1 383.6,1064.1 384.2,1063.8 385.3,1062.5 386.4,1060.2 389.7,1051.2 390.8,1049.4 391.3,1049.0 391.9,1049.1 392.4,1049.6 393.5,1051.7 396.9,1062.2 398.5,1066.6 399.6,1068.7 400.2,1069.4 401.3,1070.2 401.8,1070.2 402.9,1069.7 403.5,1069.1 404.6,1067.3 406.2,1063.5 409.0,1055.5 410.1,1052.8 411.2,1050.9 411.7,1050.4 412.3,1050.2 412.8,1050.4 413.4,1050.9 413.9,1051.8 415.0,1054.3 419.4,1068.4 421.6,1074.0 422.7,1076.0 423.8,1077.4 424.4,1077.9 425.5,1078.4 426.6,1078.4 427.7,1077.7 428.8,1076.5 429.9,1074.8 432.1,1069.9 435.9,1059.1 437.6,1054.9 438.7,1052.9 439.2,1052.3 439.8,1051.9 440.3,1051.7 440.9,1051.9 442.0,1053.0 443.6,1056.4 445.3,1061.3 449.7,1075.9 451.3,1080.6 453.0,1084.5 454.6,1087.6 456.3,1089.9 457.9,1091.3 459.6,1091.8 460.7,1091.7 462.3,1090.8 464.0,1089.2 465.6,1086.8 467.3,1083.7 469.5,1078.5 475.0,1063.1 477.2,1057.7 478.3,1055.6 479.4,1054.2 480.5,1053.5 481.0,1053.4 481.6,1053.6 482.1,1053.9 483.3,1055.2 484.4,1057.2 485.5,1059.8 487.1,1064.4 494.3,1086.5 497.0,1093.6 499.2,1098.4 502.0,1103.1 503.1,1104.7 504.7,1106.5 505.8,1107.5 507.5,1108.6 508.6,1109.1 510.2,1109.4 511.3,1109.4 513.0,1109.0 514.1,1108.4 515.7,1107.3 518.5,1104.5 521.2,1100.6 524.0,1095.7 527.3,1088.5 536.1,1066.0 538.8,1059.9 540.5,1057.1 542.1,1055.3 543.2,1054.7 543.8,1054.5 544.9,1054.7 546.0,1055.4 547.6,1057.3 548.7,1059.2 550.4,1062.5 553.1,1069.4 560.3,1089.4 564.7,1100.7 569.7,1111.8 571.9,1116.1 574.6,1121.0 577.4,1125.2 580.1,1128.8 582.9,1131.9 585.6,1134.4 588.4,1136.4 591.1,1137.8 593.9,1138.7 596.6,1139.1 599.4,1139.0 602.1,1138.4 604.9,1137.4 607.6,1135.9 610.4,1133.9 613.1,1131.5 615.9,1128.7 618.6,1125.4 621.4,1121.8 624.1,1117.8 626.9,1113.4 631.0,1106.1 636.5,1095.3 647.5,1072.0 650.3,1066.6 653.0,1061.9 655.8,1058.3 657.2,1056.9 658.5,1056.0 659.9,1055.5 661.3,1055.4 662.7,1055.7 664.0,1056.5 665.4,1057.7 666.8,1059.2 669.5,1063.3 672.3,1068.3 676.4,1077.0 686.0,1098.6 691.5,1110.5 698.4,1124.4 703.9,1134.6 709.4,1143.9 714.9,1152.4 720.4,1160.2 725.9,1167.2 732.8,1174.9 739.7,1181.6 746.6,1187.2 753.5,1191.8 760.3,1195.4 764.5,1197.2 768.6,1198.6 775.5,1200.3 779.6,1200.9 783.7,1201.2 790.6,1201.1 794.7,1200.6 798.9,1199.9 805.7,1198.1 809.9,1196.7 814.0,1195.1 820.9,1191.8 829.1,1187.0 837.4,1181.3 845.6,1174.7 853.9,1167.4 863.5,1157.8 871.8,1148.8 881.4,1137.4 889.7,1126.9 897.9,1115.8 925.4,1077.0 929.6,1071.6 933.7,1066.8 936.4,1063.9 939.2,1061.4 941.9,1059.4 944.7,1057.9 947.4,1056.9 950.2,1056.6 951.6,1056.7 954.3,1057.3 955.7,1057.8 958.5,1059.3 962.6,1062.6 966.7,1066.8 970.8,1071.8 975.0,1077.3 980.5,1085.2 1002.5,1118.4 1013.5,1134.5 1024.5,1150.0 1036.9,1166.8 1050.6,1184.4 1064.4,1201.1 1079.5,1218.6 1094.7,1235.0 1109.8,1250.6 1126.3,1266.6 1142.8,1281.8 1159.3,1296.1 1177.2,1310.7 1195.1,1324.4 1213.0,1337.4 1232.2,1350.6 1252.9,1363.9 1273.5,1376.4 1295.5,1388.9 1317.5,1400.6 1339.5,1411.6 1362.9,1422.6 1387.7,1433.5 1412.5,1443.7 1438.6,1453.8 1464.7,1463.3 1492.3,1472.7 1521.2,1481.9 1550.0,1490.5 1580.3,1498.9 1612.0,1507.2 1643.6,1514.9"/>
</g>
<g clip-path="url(#c2)" fill="none" stroke-width="4">
<polyline stroke="#0000ff" points="267.8,1906.5 332.5,1920.7 335.8,1921.3 339.6,1922.4 343.5,1922.9 347.9,1924.2 352.3,1924.7 357.8,1926.4 363.3,1927.0 367.7,1928.7 369.3,1929.1 371.0,1929.3 374.3,1929.3 375.9,1929.5 377.6,1930.0 382.0,1932.1 383.6,1932.6 385.8,1932.7 390.2,1932.4 391.9,1932.5 393.0,1932.8 394.6,1933.6 399.6,1936.4 401.8,1937.2 402.9,1937.3 404.6,1937.2 410.1,1936.1 411.7,1936.0 412.8,1936.2 414.5,1936.8 416.1,1937.7 422.7,1942.5 424.4,1943.3 426.0,1943.8 427.7,1944.0 429.9,1943.6 435.4,1941.6 437.6,1940.9 439.2,1940.8 440.9,1941.0 443.1,1941.9 445.3,1943.4 447.5,1945.4 452.4,1950.5 455.2,1952.8 457.4,1954.2 459.6,1955.0 460.7,1955.1 462.3,1955.1 464.0,1954.7 465.6,1954.1 468.4,1952.5 474.4,1948.5 477.2,1947.2 478.8,1946.7 479.9,1946.6 482.1,1946.9 483.3,1947.3 484.9,1948.2 486.6,1949.4 488.2,1950.9 491.5,1954.5 498.7,1963.3 502.5,1967.3 504.7,1969.0 506.4,1970.1 508.6,1971.0 510.2,1971.5 512.4,1971.6 514.6,1971.3 516.8,1970.5 519.6,1969.1 521.8,1967.5 524.0,1965.7 533.9,1956.6 536.1,1955.0 538.3,1953.6 540.5,1952.7 542.1,1952.4 544.3,1952.3 546.0,1952.7 548.2,1953.5 550.4,1954.9 552.6,1956.8 555.3,1959.7 560.3,1966.0 569.7,1979.6 573.5,1984.8 577.4,1989.6 581.2,1993.7 585.1,1997.0 588.9,1999.6 592.8,2001.3 596.6,2002.1 598.8,2002.3 601.0,2002.1 603.2,2001.7 605.4,2001.1 607.6,2000.2 609.8,1999.2 614.5,1996.1 618.6,1992.8 624.1,1987.5 637.9,1972.4 642.0,1968.1 646.1,1964.4 650.3,1961.3 654.4,1959.1 657.2,1958.3 658.5,1958.0 661.3,1957.9 662.7,1958.1 665.4,1958.8 668.2,1960.0 672.3,1962.7 676.4,1966.4 680.5,1970.9 684.7,1976.1 688.8,1981.8 706.7,2008.1 716.3,2021.5 721.8,2028.5 727.3,2035.0 732.8,2040.9 736.9,2044.9 742.5,2049.7 748.0,2053.9 753.5,2057.6 759.0,2060.6 764.5,2063.0 770.0,2064.9 775.5,2066.3 782.3,2067.2 787.9,2067.3 794.7,2066.8 801.6,2065.6 808.5,2063.7 815.4,2061.0 822.2,2057.8 829.1,2053.9 836.0,2049.4 841.5,2045.5 848.4,2040.1 853.9,2035.5 860.8,2029.4 873.2,2017.5 899.3,1991.2 908.9,1982.2 914.4,1977.5 918.6,1974.2 924.1,1970.3 928.2,1967.7 933.7,1964.9 937.8,1963.3 941.9,1962.2 946.1,1961.5 950.2,1961.3 954.3,1961.5 958.5,1962.3 962.6,1963.5 966.7,1965.3 970.8,1967.4 975.0,1970.0 979.1,1972.9 983.2,1976.2 987.3,1979.8 991.5,1983.7 997.0,1989.2 1005.2,1998.1 1013.5,2007.6 1056.1,2058.6 1068.5,2073.0 1080.9,2086.9 1094.7,2101.7 1108.4,2115.9 1122.2,2129.5 1137.3,2143.8 1151.1,2156.1 1166.2,2169.0 1181.3,2181.3 1196.5,2192.9 1211.6,2204.1 1226.7,2214.7 1243.2,2225.7 1259.8,2236.1 1279.0,2247.7 1299.6,2259.4 1320.3,2270.4 1340.9,2280.8 1362.9,2291.3 1384.9,2301.1 1407.0,2310.4 1430.4,2319.7 1453.7,2328.5 1478.5,2337.3 1504.6,2346.0 1530.8,2354.2 1558.3,2362.3 1585.8,2370.0 1614.7,2377.5 1643.6,2384.6"/>
</g>
<line x1="950.6" y1="109.1" x2="950.6" y2="687.6" stroke="#000" stroke-width="7" stroke-dasharray="6 16" shape-rendering="crispEdges"/><line x1="660.9" y1="115.1" x2="660.9" y2="687.6" stroke="#000" stroke-width="5.5" stroke-dasharray="4.8 11.9" shape-rendering="crispEdges"/><line x1="544.0" y1="115.1" x2="544.0" y2="687.6" stroke="#000" stroke-width="5.5" stroke-dasharray="4.8 11.9" shape-rendering="crispEdges"/><line x1="481.0" y1="115.1" x2="481.0" y2="687.6" stroke="#000" stroke-width="5.5" stroke-dasharray="4.8 11.9" shape-rendering="crispEdges"/><line x1="440.5" y1="115.1" x2="440.5" y2="687.6" stroke="#000" stroke-width="5.5" stroke-dasharray="4.8 11.9" shape-rendering="crispEdges"/><path d="M406.0,687.0v-18.5M406.0,103.5v18.5M543.5,687.0v-37M543.5,103.5v37M681.0,687.0v-18.5M681.0,103.5v18.5M818.5,687.0v-37M818.5,103.5v37M956.0,687.0v-18.5M956.0,103.5v18.5M1093.5,687.0v-37M1093.5,103.5v37M1231.0,687.0v-18.5M1231.0,103.5v18.5M1368.5,687.0v-37M1368.5,103.5v37M1506.0,687.0v-18.5M1506.0,103.5v18.5M267.8,620.7h18.5M1643.6,620.7h-18.5M267.8,554.4h37M1643.6,554.4h-37M267.8,488.1h18.5M1643.6,488.1h-18.5M267.8,421.8h37M1643.6,421.8h-37M267.8,355.5h18.5M1643.6,355.5h-18.5M267.8,289.2h37M1643.6,289.2h-37M267.8,222.9h18.5M1643.6,222.9h-18.5M267.8,156.6h37M1643.6,156.6h-37" stroke="#000" stroke-width="4" fill="none" shape-rendering="crispEdges"/><rect x="267.8" y="103.5" width="1375.8" height="583.5" fill="none" stroke="#000" stroke-width="3.7" shape-rendering="crispEdges"/>
<line x1="950.6" y1="984.1" x2="950.6" y2="1562.6" stroke="#000" stroke-width="7" stroke-dasharray="6 16" shape-rendering="crispEdges"/><line x1="660.9" y1="990.1" x2="660.9" y2="1562.6" stroke="#000" stroke-width="5.5" stroke-dasharray="4.8 11.9" shape-rendering="crispEdges"/><line x1="544.0" y1="990.1" x2="544.0" y2="1562.6" stroke="#000" stroke-width="5.5" stroke-dasharray="4.8 11.9" shape-rendering="crispEdges"/><line x1="481.0" y1="990.1" x2="481.0" y2="1562.6" stroke="#000" stroke-width="5.5" stroke-dasharray="4.8 11.9" shape-rendering="crispEdges"/><line x1="440.5" y1="990.1" x2="440.5" y2="1562.6" stroke="#000" stroke-width="5.5" stroke-dasharray="4.8 11.9" shape-rendering="crispEdges"/><path d="M406.0,1562.0v-18.5M406.0,978.5v18.5M543.5,1562.0v-37M543.5,978.5v37M681.0,1562.0v-18.5M681.0,978.5v18.5M818.5,1562.0v-37M818.5,978.5v37M956.0,1562.0v-18.5M956.0,978.5v18.5M1093.5,1562.0v-37M1093.5,978.5v37M1231.0,1562.0v-18.5M1231.0,978.5v18.5M1368.5,1562.0v-37M1368.5,978.5v37M1506.0,1562.0v-18.5M1506.0,978.5v18.5M267.8,1495.7h18.5M1643.6,1495.7h-18.5M267.8,1429.4h37M1643.6,1429.4h-37M267.8,1363.1h18.5M1643.6,1363.1h-18.5M267.8,1296.8h37M1643.6,1296.8h-37M267.8,1230.5h18.5M1643.6,1230.5h-18.5M267.8,1164.2h37M1643.6,1164.2h-37M267.8,1097.9h18.5M1643.6,1097.9h-18.5M267.8,1031.5h37M1643.6,1031.5h-37" stroke="#000" stroke-width="4" fill="none" shape-rendering="crispEdges"/><rect x="267.8" y="978.5" width="1375.8" height="583.5" fill="none" stroke="#000" stroke-width="3.7" shape-rendering="crispEdges"/>
<line x1="950.6" y1="1859.1" x2="950.6" y2="2437.6" stroke="#000" stroke-width="7" stroke-dasharray="6 16" shape-rendering="crispEdges"/><line x1="660.9" y1="1865.1" x2="660.9" y2="2437.6" stroke="#000" stroke-width="5.5" stroke-dasharray="4.8 11.9" shape-rendering="crispEdges"/><line x1="544.0" y1="1865.1" x2="544.0" y2="2437.6" stroke="#000" stroke-width="5.5" stroke-dasharray="4.8 11.9" shape-rendering="crispEdges"/><line x1="481.0" y1="1865.1" x2="481.0" y2="2437.6" stroke="#000" stroke-width="5.5" stroke-dasharray="4.8 11.9" shape-rendering="crispEdges"/><line x1="440.5" y1="1865.1" x2="440.5" y2="2437.6" stroke="#000" stroke-width="5.5" stroke-dasharray="4.8 11.9" shape-rendering="crispEdges"/><path d="M406.0,2437.0v-18.5M406.0,1853.5v18.5M543.5,2437.0v-37M543.5,1853.5v37M681.0,2437.0v-18.5M681.0,1853.5v18.5M818.5,2437.0v-37M818.5,1853.5v37M956.0,2437.0v-18.5M956.0,1853.5v18.5M1093.5,2437.0v-37M1093.5,1853.5v37M1231.0,2437.0v-18.5M1231.0,1853.5v18.5M1368.5,2437.0v-37M1368.5,1853.5v37M1506.0,2437.0v-18.5M1506.0,1853.5v18.5M267.8,2370.7h18.5M1643.6,2370.7h-18.5M267.8,2304.4h37M1643.6,2304.4h-37M267.8,2238.1h18.5M1643.6,2238.1h-18.5M267.8,2171.8h37M1643.6,2171.8h-37M267.8,2105.5h18.5M1643.6,2105.5h-18.5M267.8,2039.2h37M1643.6,2039.2h-37M267.8,1972.9h18.5M1643.6,1972.9h-18.5M267.8,1906.5h37M1643.6,1906.5h-37" stroke="#000" stroke-width="4" fill="none" shape-rendering="crispEdges"/><rect x="267.8" y="1853.5" width="1375.8" height="583.5" fill="none" stroke="#000" stroke-width="3.7" shape-rendering="crispEdges"/>
<text x="958.0" y="55.0" font-size="68" text-anchor="middle">(a)</text><text x="252.0" y="180.1" font-size="69" text-anchor="end">0</text><text x="252.0" y="312.7" font-size="69" text-anchor="end" textLength="122.6" lengthAdjust="spacingAndGlyphs">-250</text><text x="252.0" y="445.3" font-size="69" text-anchor="end" textLength="122.6" lengthAdjust="spacingAndGlyphs">-500</text><text x="252.0" y="577.9" font-size="69" text-anchor="end" textLength="122.6" lengthAdjust="spacingAndGlyphs">-750</text><text x="252.0" y="710.5" font-size="69" text-anchor="end" textLength="156.2" lengthAdjust="spacingAndGlyphs">-1000</text><text x="269.3" y="752.0" font-size="69" text-anchor="middle">0</text><text x="544.5" y="752.0" font-size="69" text-anchor="middle">2</text><text x="819.6" y="752.0" font-size="69" text-anchor="middle">4</text><text x="1094.8" y="752.0" font-size="69" text-anchor="middle">6</text><text x="1369.9" y="752.0" font-size="69" text-anchor="middle">8</text><text x="1645.1" y="752.0" font-size="69" text-anchor="middle">10</text><text x="957.8" y="815.3" font-size="68" text-anchor="middle">B (Tesla)</text><text x="1310.8" y="220.2" font-size="69" text-anchor="start" textLength="258.9" lengthAdjust="spacingAndGlyphs">T = 0.0 K</text><text transform="translate(65,0) rotate(-90)" x="-556.5 -495.2 -472.4 -451.0 -399.0 -370.0 -319.9 -302.9 -261.9" font-size="69">M (meV/T)</text>
<text x="958.0" y="930.0" font-size="68" text-anchor="middle">(b)</text><text x="252.0" y="1055.0" font-size="69" text-anchor="end">0</text><text x="252.0" y="1187.7" font-size="69" text-anchor="end" textLength="122.6" lengthAdjust="spacingAndGlyphs">-250</text><text x="252.0" y="1320.3" font-size="69" text-anchor="end" textLength="122.6" lengthAdjust="spacingAndGlyphs">-500</text><text x="252.0" y="1452.9" font-size="69" text-anchor="end" textLength="122.6" lengthAdjust="spacingAndGlyphs">-750</text><text x="252.0" y="1585.5" font-size="69" text-anchor="end" textLength="156.2" lengthAdjust="spacingAndGlyphs">-1000</text><text x="269.3" y="1627.0" font-size="69" text-anchor="middle">0</text><text x="544.5" y="1627.0" font-size="69" text-anchor="middle">2</text><text x="819.6" y="1627.0" font-size="69" text-anchor="middle">4</text><text x="1094.8" y="1627.0" font-size="69" text-anchor="middle">6</text><text x="1369.9" y="1627.0" font-size="69" text-anchor="middle">8</text><text x="1645.1" y="1627.0" font-size="69" text-anchor="middle">10</text><text x="957.8" y="1690.3" font-size="68" text-anchor="middle">B (Tesla)</text><text x="1310.8" y="1095.2" font-size="69" text-anchor="start" textLength="258.9" lengthAdjust="spacingAndGlyphs">T = 2.0 K</text><text transform="translate(65,0) rotate(-90)" x="-1431.5 -1370.2 -1347.3 -1326.0 -1274.0 -1245.0 -1195.0 -1177.9 -1137.0" font-size="69">M (meV/T)</text>
<text x="958.0" y="1805.0" font-size="68" text-anchor="middle">(c)</text><text x="252.0" y="1930.0" font-size="69" text-anchor="end">0</text><text x="252.0" y="2062.7" font-size="69" text-anchor="end" textLength="122.6" lengthAdjust="spacingAndGlyphs">-250</text><text x="252.0" y="2195.3" font-size="69" text-anchor="end" textLength="122.6" lengthAdjust="spacingAndGlyphs">-500</text><text x="252.0" y="2327.9" font-size="69" text-anchor="end" textLength="122.6" lengthAdjust="spacingAndGlyphs">-750</text><text x="252.0" y="2460.5" font-size="69" text-anchor="end" textLength="156.2" lengthAdjust="spacingAndGlyphs">-1000</text><text x="269.3" y="2502.0" font-size="69" text-anchor="middle">0</text><text x="544.5" y="2502.0" font-size="69" text-anchor="middle">2</text><text x="819.6" y="2502.0" font-size="69" text-anchor="middle">4</text><text x="1094.8" y="2502.0" font-size="69" text-anchor="middle">6</text><text x="1369.9" y="2502.0" font-size="69" text-anchor="middle">8</text><text x="1645.1" y="2502.0" font-size="69" text-anchor="middle">10</text><text x="957.8" y="2565.3" font-size="68" text-anchor="middle">B (Tesla)</text><text x="1310.8" y="1970.2" font-size="69" text-anchor="start" textLength="258.9" lengthAdjust="spacingAndGlyphs">T = 5.0 K</text><text transform="translate(65,0) rotate(-90)" x="-2306.6 -2245.2 -2222.3 -2200.9 -2149.1 -2120.0 -2069.9 -2052.9 -2012.0" font-size="69">M (meV/T)</text>
</svg></body></html>
